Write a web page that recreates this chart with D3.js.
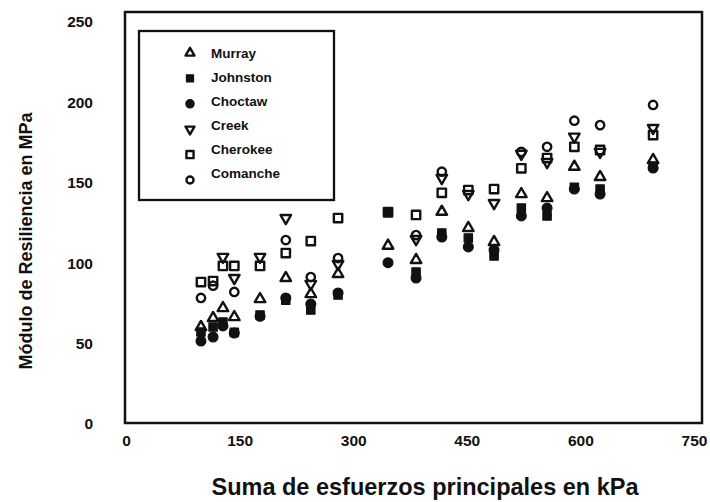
<!DOCTYPE html>
<html>
<head>
<meta charset="utf-8">
<script src="https://cdn.jsdelivr.net/npm/d3@7"></script>
<style>
  html, body { margin: 0; padding: 0; background: #fff; }
  svg { display: block; font-family: "Liberation Sans", Arial, Helvetica, sans-serif; }
</style>
</head>
<body>
<svg id="chart" width="710" height="502"></svg>
<script>
// Sum of principal stresses (kPa) for each load sequence
const stress = [99, 115, 128, 143, 177, 211, 244, 280, 346, 383, 417, 452, 486, 522, 556, 592, 626, 696];

// Resilient modulus (MPa) per aggregate source; null = no reading shown
const murray   = [60.3, 65.9, 72.1, 66.5, 77.7, 90.8, 80.8, 93.3, 110.9, 102.0, 132.0, 121.9, 113.2, 143.0, 140.5, 160.0, 153.6, 164.2];
const johnston = [57.2, 60.3, 63.4, 57.0, 67.8, 77.0, 70.9, 80.2, 131.4, 94.5, 118.8, 115.7, 104.5, 134.3, 129.4, 147.2, 146.1, 160.4];
const choctaw  = [51.6, 54.1, 61.0, 56.6, 67.0, 78.4, 74.6, 81.5, 100.3, 90.8, 116.3, 110.1, 108.2, 129.4, 134.3, 146.1, 143.0, 159.2];
const creek    = [null, null, 103.9, 90.8, 103.9, 128.1, 87.1, 99.5, null, 115.0, 153.0, 143.0, 137.4, 168.0, 162.9, 178.7, 169.2, 184.1];
const cherokee = [88.3, 88.9, 98.3, 98.3, 98.3, 106.3, 113.8, 128.1, 131.8, 130.0, 143.8, 145.5, 146.1, 159.0, 165.4, 172.4, 170.4, 179.7];
const comanche = [78.4, 86.0, null, 82.1, null, 114.4, 91.4, 103.2, null, 117.5, 156.9, null, null, 169.2, 172.4, 188.6, 185.9, 198.4];

const seriesNames = ["Murray", "Johnston", "Choctaw", "Creek", "Cherokee", "Comanche"];
const seriesValues = [murray, johnston, choctaw, creek, cherokee, comanche];

const xTicks = [0, 150, 300, 450, 600, 750];
const yTicks = [0, 50, 100, 150, 200, 250];

const xTitle = "Suma de esfuerzos principales en kPa";
const yTitle = "Módulo de Resiliencia en MPa";

// ---- layout ----
const ink = "#111";
const frame = { left: 125, top: 12, right: 702, bottom: 423 };

const svg = d3.select("#chart");

const x = d3.scaleLinear().domain([0, 750]).range([126, 694]);
const y = d3.scaleLinear().domain([0, 250]).range([424, 22]);

// marker styles per series: symbol type, filled?, rotation
const markerStyle = {
  Murray:   { type: d3.symbolTriangle, size: 48, fill: false, rot: 0 },
  Johnston: { type: d3.symbolSquare,   size: 70, fill: true,  rot: 0 },
  Choctaw:  { type: d3.symbolCircle,   size: 76, fill: true,  rot: 0 },
  Creek:    { type: d3.symbolTriangle, size: 48, fill: false, rot: 180 },
  Cherokee: { type: d3.symbolSquare,   size: 70, fill: false, rot: 0 },
  Comanche: { type: d3.symbolCircle,   size: 55, fill: false, rot: 0 }
};

function drawMarker(g, name, cx, cy, scale) {
  const st = markerStyle[name];
  g.append("path")
    .attr("d", d3.symbol().type(st.type).size(st.size * scale * scale)())
    .attr("transform", `translate(${cx},${cy}) rotate(${st.rot})`)
    .attr("fill", st.fill ? ink : "none")
    .attr("stroke", ink)
    .attr("stroke-width", st.fill ? 1.2 : 2.4)
    .attr("stroke-linejoin", "round");
}

// ---- axes (labels only; the frame is drawn as a box) ----
const xAxis = svg.append("g")
  .attr("transform", `translate(0,${frame.bottom})`)
  .call(d3.axisBottom(x).tickValues(xTicks).tickSize(0).tickPadding(12));
const yAxis = svg.append("g")
  .attr("transform", `translate(${frame.left},0)`)
  .call(d3.axisLeft(y).tickValues(yTicks).tickSize(0).tickPadding(32));

[xAxis, yAxis].forEach(a => {
  a.select(".domain").remove();
  a.selectAll("text")
    .attr("fill", ink)
    .style("font-family", "'Liberation Sans', Arial, sans-serif")
    .style("font-size", "15.5px")
    .style("font-weight", "bold");
});

// ---- plot frame ----
svg.append("rect")
  .attr("x", frame.left).attr("y", frame.top)
  .attr("width", frame.right - frame.left)
  .attr("height", frame.bottom - frame.top)
  .attr("fill", "none").attr("stroke", ink).attr("stroke-width", 2.5);

// ---- data points ----
const pts = svg.append("g");
seriesNames.forEach((name, si) => {
  seriesValues[si].forEach((v, i) => {
    if (v == null) return;
    drawMarker(pts, name, x(stress[i]), y(v), 1);
  });
});

// ---- legend ----
const legend = svg.append("g");
legend.append("rect")
  .attr("x", 139).attr("y", 31).attr("width", 195).attr("height", 169)
  .attr("fill", "#fff").attr("stroke", ink).attr("stroke-width", 2.3);

seriesNames.forEach((name, i) => {
  drawMarker(legend, name, 190, 53 + i * 25.4, 0.85);
  legend.append("text")
    .attr("x", 211).attr("y", 53 + i * 24)
    .attr("dy", "0.35em")
    .attr("fill", ink)
    .style("font-size", "13.5px")
    .style("font-weight", "bold")
    .text(name);
});

// ---- axis titles ----
svg.append("text")
  .attr("x", 425).attr("y", 495)
  .attr("text-anchor", "middle")
  .attr("fill", ink)
  .style("font-size", "23.5px")
  .style("font-weight", "bold")
  .text(xTitle);

svg.append("text")
  .attr("transform", "translate(32,241) rotate(-90)")
  .attr("text-anchor", "middle")
  .attr("fill", ink)
  .style("font-size", "18px")
  .style("font-weight", "bold")
  .text(yTitle);
</script>
</body>
</html>
